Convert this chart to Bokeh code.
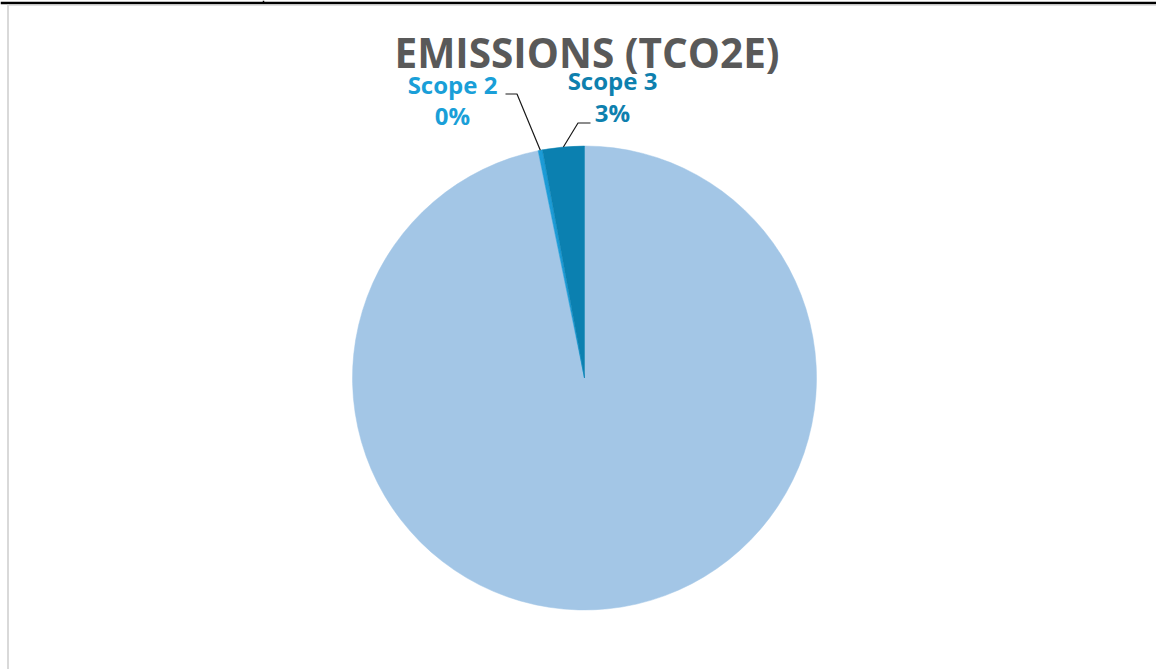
import math
from bokeh.plotting import figure
from bokeh.models import Range1d, ColumnDataSource
from bokeh.core.properties import value
from bokeh.embed import file_html
from bokeh.resources import INLINE

# ---- data ----
categories = ["Scope 1", "Scope 2", "Scope 3"]
emissions = [96.8, 0.3, 2.9]
slice_colors = ["#A3C6E6", "#1C9BD6", "#0B80B0"]
labelled = ["Scope 2", "Scope 3"]
title_text = "EMISSIONS (TCO2E)"

# ---- layout ----
W, H = 1156, 669
OFF = 0  # page offset of the figure's top-left corner
TXT = -11  # baseline correction for text glyphs


def X(px):
    return px - OFF


def Y(py):
    return H - (py - OFF)


CX, CY, R = 584, 377.5, 232
FONT = "Open Sans"
label_style = {
    "Scope 2": dict(x=452, name_y=95, pct_y=125.5, color="#1A9FD8",
                    elbow=[(505, 93.5), (516.5, 93.5)]),
    "Scope 3": dict(x=612, name_y=91, pct_y=123, color="#0E80AE",
                    elbow=[(590, 122.5), (577.5, 122.5)]),
}

p = figure(width=W, height=H, output_backend="svg", toolbar_location=None,
           x_range=Range1d(0, W), y_range=Range1d(0, H),
           x_axis_location=None, y_axis_location=None, min_border=0)
p.grid.visible = False
p.outline_line_color = None
p.background_fill_color = "white"
p.border_fill_color = "white"

# frame decorations (spreadsheet edges)
p.line([X(0), X(1156)], [Y(2.5), Y(2.5)], line_color="black", line_width=2.5)
p.line([X(8), X(1156)], [Y(4.8), Y(4.8)], line_color="#D9D9D9", line_width=1)
p.line([X(263), X(263)], [Y(0), Y(3)], line_color="black", line_width=1.5)
p.line([X(7.5), X(7.5)], [Y(4), Y(669)], line_color="#D9D9D9", line_width=2)

# ---- pie ----
total = sum(emissions)
starts, ends, mids = [], [], []
cum = 0.0
for v in emissions:
    a0 = math.pi / 2 - 2 * math.pi * cum / total
    cum += v
    a1 = math.pi / 2 - 2 * math.pi * cum / total
    starts.append(a0)
    ends.append(a1)
    mids.append((a0 + a1) / 2)

src = ColumnDataSource(dict(cat=categories, val=emissions, start=starts, end=ends,
                            color=slice_colors))
p.wedge(x=X(CX), y=Y(CY), radius=R, radius_units="screen",
        start_angle="start", end_angle="end", direction="clock",
        fill_color="color", line_color="color", line_width=0.5, source=src)

# ---- labels with leader lines ----
for cat, v, m in zip(categories, emissions, mids):
    if cat not in labelled:
        continue
    st = label_style[cat]
    pct = f"{round(100 * v / total):d}%"
    p.text(x=[X(st["x"])], y=[Y(st["name_y"] + TXT)], text=[cat],
           text_font=value(FONT), text_font_style="bold", text_font_size="24px",
           text_color=st["color"], text_align="center", text_baseline="alphabetic")
    p.text(x=[X(st["x"])], y=[Y(st["pct_y"] + TXT)], text=[pct],
           text_font=value(FONT), text_font_style="bold", text_font_size="24px",
           text_color=st["color"], text_align="center", text_baseline="alphabetic")
    ex = CX + R * math.cos(m)
    ey = CY - R * math.sin(m)
    pts = st["elbow"] + [(ex, ey)]
    p.line([X(a) for a, b in pts], [Y(b) for a, b in pts],
           line_color="#1a1a1a", line_width=1.2)

# ---- title ----
p.text(x=[X(586.5)], y=[Y(63 + TXT)], text=[title_text],
       text_font=value(FONT), text_font_style="bold", text_font_size="40.5px",
       text_color="#595959", text_align="center", text_baseline="alphabetic")

open("out.html", "w").write(file_html(p, INLINE))
